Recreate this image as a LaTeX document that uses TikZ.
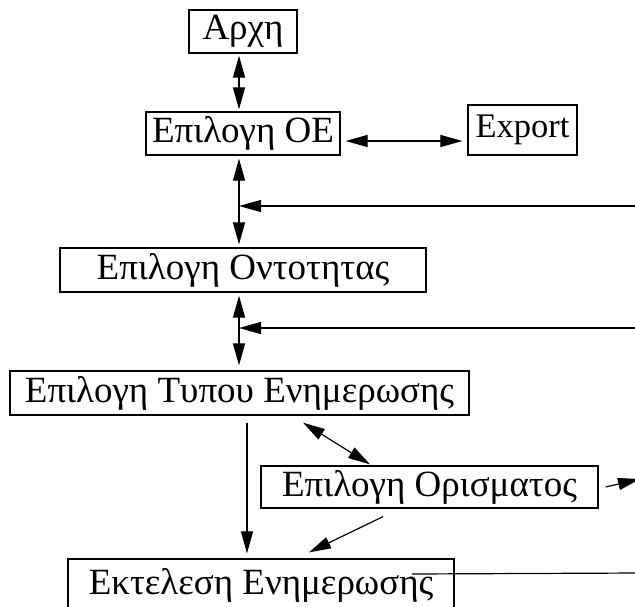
\documentclass[tikz,border=0pt]{standalone}
\usepackage{fontspec}
\setmainfont{Liberation Serif}
\usetikzlibrary{arrows.meta}

\begin{document}
\begin{tikzpicture}[x=1pt, y=-1pt, >={Triangle[length=22pt, width=12pt]}, line width=1.2pt,
  kouti/.style={draw, line width=1.3pt, inner sep=0pt, font=\fontsize{37}{40}\selectfont}]
  \useasboundingbox (0,0) rectangle (635,606);
  \clip (0,0) rectangle (635,606);
  % koutia
  \node[kouti, minimum width=108pt, minimum height=43pt] (arxi) at (243,31.5) {Αρχη};
  \node[kouti, minimum width=194pt, minimum height=43pt] (oe) at (243,133.5) {Επιλογη ΟΕ};
  \node[kouti, minimum width=109pt, minimum height=50pt, font=\fontsize{34.5}{38}\selectfont] (export) at (522.5,130) {Export};
  \node[kouti, minimum width=366pt, minimum height=44pt] (ontotita) at (243,270) {Επιλογη Οντοτητας};
  \node[kouti, minimum width=459pt, minimum height=44pt] (typos) at (239.5,393) {Επιλογη Τυπου Ενημερωσης};
  \node[kouti, minimum width=337pt, minimum height=42pt] (orisma) at (429.5,487) {Επιλογη Ορισματος};
  \node[kouti, minimum width=386pt, minimum height=52pt] (ektelesi) at (261,585) {Εκτελεση Ενημερωσης};
  % akra pou vgainoun apo ta dexia
  \coordinate (eis1) at (640,206);
  \coordinate (eis2) at (640,328);
  \coordinate (eks1) at (640,479);
  \coordinate (eks2) at (640,573);
  \coordinate (k1) at (239,206);
  \coordinate (k2) at (239,328);
  % syndeseis
  \draw[<->, shorten <=2pt, shorten >=2pt] ([xshift=-4pt]arxi.south) -- ([xshift=-4pt]oe.north);
  \draw[<->, shorten <=5pt, shorten >=5pt] ([yshift=-7.5pt]oe.east) -- ([yshift=-11pt]export.west);
  \draw[<->, shorten <=3pt, shorten >=3pt] ([xshift=-4pt]oe.south) -- ([xshift=-4pt]ontotita.north);
  \draw[->] (eis1) -- (k1);
  \draw[<->, shorten <=3pt, shorten >=5pt] ([xshift=-4pt]ontotita.south) -- ([xshift=-0.5pt]typos.north);
  \draw[->] (eis2) -- (k2);
  \draw[->, shorten <=7pt, shorten >=5pt] ([xshift=7.5pt]typos.south) -- ([xshift=-14pt]ektelesi.north);
  \draw[<->] ([xshift=63.5pt, yshift=-7pt]typos.south) -- ([xshift=-59.5pt, yshift=1pt]orisma.north);
  \draw[->] ([xshift=-46.5pt, yshift=-8pt]orisma.south) -- ([xshift=48pt, yshift=6pt]ektelesi.north);
  \draw[->] ([xshift=7pt]orisma.east) -- (eks1);
  \draw ([xshift=151pt, yshift=11pt]ektelesi.center) -- (eks2);
\end{tikzpicture}
\end{document}
